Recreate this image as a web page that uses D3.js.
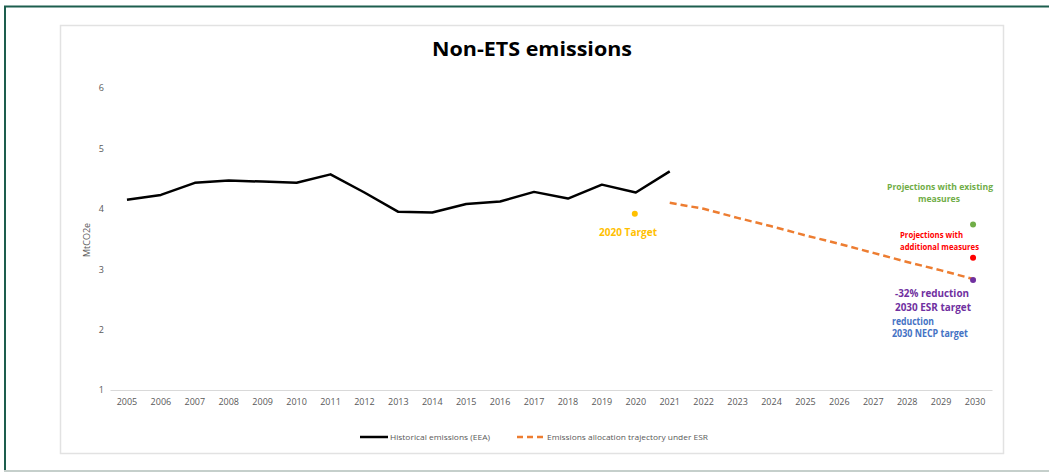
<!DOCTYPE html>
<html><head><meta charset="utf-8">
<script src="https://cdn.jsdelivr.net/npm/d3@7/dist/d3.min.js"></script>
<style>body{margin:0;background:#fff;}svg{display:block;font-family:"Open Sans",sans-serif;}</style>
</head><body>
<svg id="c" width="1049" height="472"></svg>
<script>
const years = d3.range(2005, 2031);
const histYears = [2005,2006,2007,2008,2009,2010,2011,2012,2013,2014,2015,2016,2017,2018,2019,2020,2021];
const histValues = [4.15,4.23,4.43,4.47,4.45,4.43,4.57,4.27,3.95,3.94,4.08,4.12,4.28,4.17,4.40,4.27,4.62];
const esrYears = [2021,2022,2023,2024,2025,2026,2027,2028,2029,2030];
const esrValues = [4.10,4.00,3.85,3.71,3.56,3.42,3.27,3.12,2.98,2.83];
const yTicks = [1,2,3,4,5,6];
const markers = [
  {year:2020, value:3.92, color:"#ffc000"},
  {year:2030, value:3.74, color:"#70ad47"},
  {year:2030, value:3.19, color:"#ff0000"},
  {year:2030, value:2.82, color:"#7030a0"}
];

const svg = d3.select("#c");
// outer frame
svg.append("line").attr("x1",5).attr("x2",5).attr("y1",6).attr("y2",471).attr("stroke","#1d5e4e").attr("stroke-width",2);
svg.append("line").attr("x1",4).attr("x2",1049).attr("y1",6.5).attr("y2",6.5).attr("stroke","#1d5e4e").attr("stroke-width",2);
svg.append("line").attr("x1",4).attr("x2",1049).attr("y1",471).attr("y2",471).attr("stroke","#c5cfcb").attr("stroke-width",2);
// inner chart box
svg.append("rect").attr("x",60.5).attr("y",25.5).attr("width",943).attr("height",428).attr("fill","#fff").attr("stroke","#e2e2e2").attr("stroke-width",1.5);

const x = d3.scaleBand().domain(years).range([110, 992]);
const cx = d => x(d) + x.bandwidth()/2;
const y = d3.scaleLinear().domain([1,6]).range([390, 88]);

// title
svg.append("text").attr("x",532).attr("y",56).attr("text-anchor","middle")
  .attr("font-size",19).attr("font-weight","bold").attr("fill","#000")
  .attr("textLength",200).attr("lengthAdjust","spacingAndGlyphs").text("Non-ETS emissions");

// y axis
const ya = svg.append("g").attr("transform","translate(104,0)")
  .call(d3.axisLeft(y).tickValues(yTicks).tickSize(0).tickPadding(0).tickFormat(d3.format("d")));
ya.select(".domain").remove();
ya.selectAll("text").attr("fill","#595959").attr("font-size",9).attr("font-family","Open Sans");

// x axis
const xa = svg.append("g").attr("transform","translate(0,390)")
  .call(d3.axisBottom(x).tickSize(0).tickPadding(9));
xa.select(".domain").attr("stroke","#d9d9d9");
xa.selectAll("text").attr("fill","#595959").attr("font-size",9).attr("font-family","Open Sans");

svg.append("text").attr("transform","translate(90,240) rotate(-90)").attr("text-anchor","middle")
  .attr("font-size",9).attr("fill","#595959").text("MtCO2e");

// lines
const line = d3.line().x(d=>cx(d[0])).y(d=>y(d[1]));
svg.append("path").datum(histYears.map((yr,i)=>[yr,histValues[i]]))
  .attr("d",line).attr("fill","none").attr("stroke","#000").attr("stroke-width",2.5).attr("stroke-linejoin","round");
svg.append("path").datum(esrYears.map((yr,i)=>[yr,esrValues[i]]))
  .attr("d",line).attr("fill","none").attr("stroke","#ed7d31").attr("stroke-width",2.5).attr("stroke-dasharray","7,4");

// markers
svg.selectAll("circle.m").data(markers).enter().append("circle")
  .attr("cx",d=>cx(d.year)-(d.year===2030?2:1)).attr("cy",d=>y(d.value)).attr("r",3).attr("fill",d=>d.color);

// annotations
const ann = [
  {t:"2020 Target", x:628, y:236, c:"#ffc000", s:10.5, a:"middle", w:58},
  {t:"Projections with existing", x:940, y:190, c:"#70ad47", s:9.5, a:"middle", w:106},
  {t:"measures", x:939, y:202, c:"#70ad47", s:9.5, a:"middle", w:42},
  {t:"Projections with", x:900, y:238, c:"#ff0000", s:9.5, a:"start", w:63},
  {t:"additional measures", x:900, y:250, c:"#ff0000", s:9.5, a:"start", w:79},
  {t:"-32% reduction", x:895, y:297, c:"#7030a0", s:11, a:"start", w:74},
  {t:"2030 ESR target", x:895, y:311, c:"#7030a0", s:11, a:"start", w:76},
  {t:"reduction", x:892, y:325, c:"#4472c4", s:10, a:"start", w:42},
  {t:"2030 NECP target", x:892, y:337, c:"#4472c4", s:10, a:"start", w:76}
];
svg.selectAll("text.ann").data(ann).enter().append("text").attr("class","ann")
  .attr("x",d=>d.x).attr("y",d=>d.y).attr("text-anchor",d=>d.a)
  .attr("font-size",d=>d.s).attr("font-weight","bold").attr("fill",d=>d.c)
  .attr("textLength",d=>d.w).attr("lengthAdjust","spacingAndGlyphs").text(d=>d.t);

// legend
const lg = svg.append("g");
lg.append("line").attr("x1",360).attr("x2",388).attr("y1",437).attr("y2",437).attr("stroke","#000").attr("stroke-width",2.5);
lg.append("text").attr("x",390).attr("y",440).attr("font-size",8).attr("fill","#595959")
  .attr("textLength",100).attr("lengthAdjust","spacingAndGlyphs").text("Historical emissions (EEA)");
lg.append("line").attr("x1",517).attr("x2",543).attr("y1",437).attr("y2",437).attr("stroke","#ed7d31").attr("stroke-width",2.5).attr("stroke-dasharray","6,4");
lg.append("text").attr("x",547).attr("y",440).attr("font-size",8).attr("fill","#595959")
  .attr("textLength",161).attr("lengthAdjust","spacingAndGlyphs").text("Emissions allocation trajectory under ESR");
</script>
</body></html>
